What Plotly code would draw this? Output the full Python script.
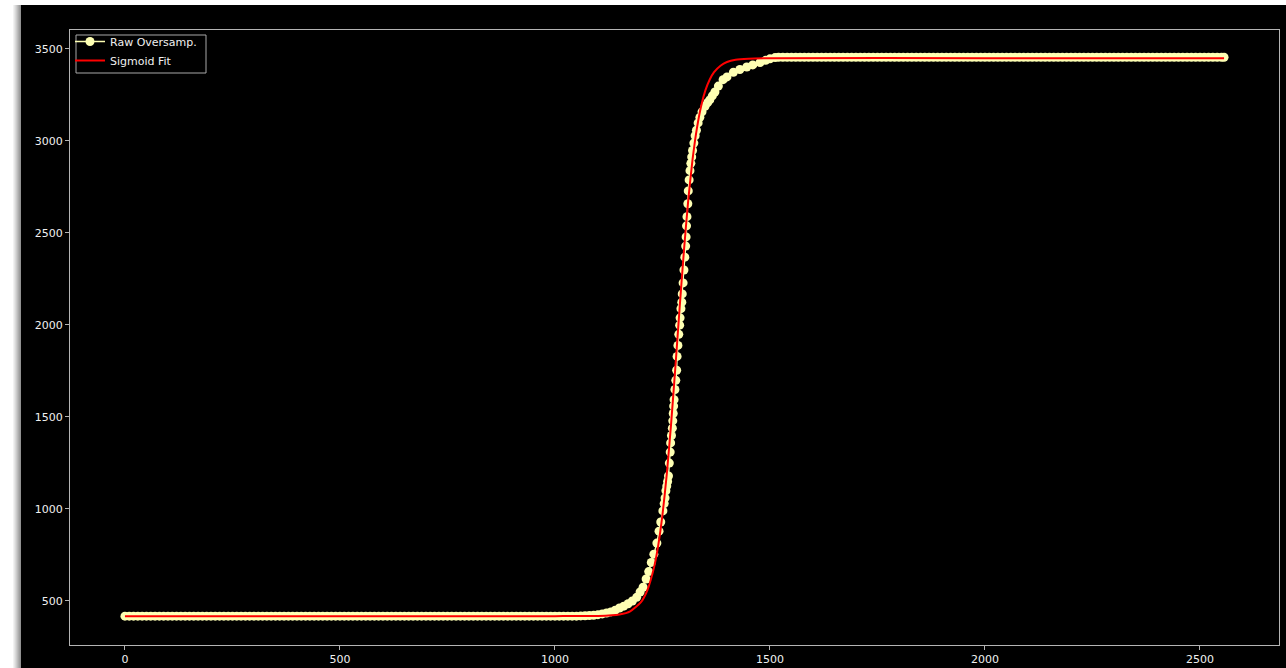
import plotly.graph_objects as go

# ---------------- data ----------------
LOW_LEVEL = 416      # raw plateau before the step
HIGH_LEVEL = 3455    # raw plateau after the step

raw_x_low = list(range(0, 1050, 10))
raw_y_low = [LOW_LEVEL] * len(raw_x_low)

raw_x_step = [1050, 1060, 1070, 1080, 1090, 1100, 1110, 1120, 1130, 1140, 1150, 1160,
              1170, 1180, 1190, 1198, 1205, 1212, 1218, 1224, 1230, 1237, 1242, 1246,
              1251, 1254, 1256, 1258, 1260, 1262, 1264, 1266, 1268, 1269, 1271, 1273,
              1274, 1275, 1276, 1277, 1279, 1281, 1283, 1284, 1286, 1288, 1290, 1291,
              1293, 1295, 1296, 1298, 1300, 1302, 1304, 1305, 1306, 1307, 1309, 1310,
              1312, 1314, 1316, 1318, 1320, 1323, 1326, 1329, 1333, 1337, 1342, 1349,
              1355, 1360, 1366, 1372, 1380, 1391, 1400, 1415, 1430, 1446, 1460, 1477,
              1490, 1500, 1512, 1520]
raw_y_step = [416, 417, 418, 419, 421, 424, 428, 433, 439, 448, 460, 470,
              483, 498, 518, 547, 573, 618, 658, 708, 753, 813, 878, 928,
              988, 1028, 1058, 1098, 1123, 1148, 1178, 1248, 1308, 1358, 1398, 1438,
              1478, 1518, 1558, 1593, 1648, 1698, 1753, 1828, 1888, 1948, 1998, 2038,
              2088, 2123, 2168, 2228, 2298, 2368, 2428, 2478, 2538, 2588, 2658, 2728,
              2788, 2838, 2878, 2913, 2948, 2988, 3028, 3058, 3098, 3128, 3158, 3188,
              3208, 3223, 3245, 3266, 3298, 3333, 3348, 3373, 3388, 3402, 3413, 3426,
              3438, 3446, 3453, 3455]

raw_x_high = list(range(1530, 2556, 10)) + [2556]
raw_y_high = [HIGH_LEVEL] * len(raw_x_high)

raw_x = raw_x_low + raw_x_step + raw_x_high
raw_y = raw_y_low + raw_y_step + raw_y_high

fit_x = [0, 1000, 1100, 1150, 1175, 1200, 1215, 1230, 1240, 1250, 1260, 1270, 1280,
         1290, 1300, 1310, 1320, 1330, 1340, 1350, 1360, 1370, 1385, 1400, 1420,
         1450, 1500, 2000, 2556]
fit_y = [416, 416, 417, 425, 442, 492, 558, 677, 798, 966, 1187, 1459, 1769,
         2095, 2405, 2678, 2899, 3067, 3190, 3276, 3334, 3374, 3409, 3429, 3441,
         3447, 3450, 3450, 3450]

x_ticks = [0, 500, 1000, 1500, 2000, 2500]
y_ticks = [500, 1000, 1500, 2000, 2500, 3000, 3500]

# ---------------- figure ----------------
W, H = 1286, 668
L, R, T, B = 70, 1279, 30, 645


def px(xp):
    return (xp - L) / (R - L)


def py(yp):
    return 1 - (yp - T) / (B - T)


fig = go.Figure()
fig.add_trace(go.Scatter(
    x=raw_x, y=raw_y, mode="lines+markers", name="Raw Oversamp.",
    line=dict(color="#feffb3", width=1.5),
    marker=dict(color="#feffb3", size=9, line=dict(width=0)),
))
fig.add_trace(go.Scatter(
    x=fit_x, y=fit_y, mode="lines", name="Sigmoid Fit",
    line=dict(color="#ff0000", width=2, shape="spline", smoothing=0.6),
))

axis_common = dict(
    showgrid=False, zeroline=False, showline=True, mirror=True,
    linecolor="#b4b4b4", linewidth=1,
    ticks="outside", ticklen=4, tickwidth=1, tickcolor="#b4b4b4",
    tickfont=dict(family="DejaVu Sans", size=11, color="#f0f0f0"),
    automargin=False,
)

fig.update_layout(
    width=W, height=H,
    template="none",
    paper_bgcolor="black", plot_bgcolor="black",
    margin=dict(l=L, r=W - R, t=T, b=H - B, pad=0),
    xaxis=dict(range=[-127.8, 2683.8], tickvals=x_ticks, **axis_common),
    yaxis=dict(range=[259, 3603], tickvals=y_ticks, **axis_common),
    showlegend=True,
    legend=dict(
        x=px(70), y=py(27), xanchor="left", yanchor="top",
        bgcolor="rgba(0,0,0,0)", borderwidth=0,
        font=dict(family="DejaVu Sans", size=11, color="#f0f0f0"),
        tracegroupgap=0,
    ),
    font=dict(family="DejaVu Sans", color="#f0f0f0"),
)

# legend frame, white screen border and window shadow around the figure
shapes = [
    dict(type="rect", xref="paper", yref="paper", x0=px(76), x1=px(206), y0=py(35), y1=py(73),
         fillcolor="rgba(0,0,0,0)", line=dict(color="#a8a8a8", width=1)),
    dict(type="rect", xref="paper", yref="paper", x0=px(0), x1=px(W), y0=py(0), y1=py(5),
         fillcolor="white", line=dict(width=0)),
    dict(type="rect", xref="paper", yref="paper", x0=px(0), x1=px(13), y0=py(0), y1=py(H),
         fillcolor="white", line=dict(width=0)),
]
shadow = ["#f2f2f2", "#e6e6e6", "#d9d9d9", "#cbcbcb", "#bcbcbc", "#adadad", "#9f9f9f", "#929292"]
for i, c in enumerate(shadow):
    shapes.append(dict(type="rect", xref="paper", yref="paper",
                       x0=px(13 + i), x1=px(14 + i), y0=py(5), y1=py(H),
                       fillcolor=c, line=dict(width=0)))
fig.update_layout(shapes=shapes)

fig.write_html(
    "out.html",
    config={"displayModeBar": False},
    post_script="document.body.style.margin='0px';document.body.style.padding='0px';"
                "document.body.style.overflow='hidden';",
)
